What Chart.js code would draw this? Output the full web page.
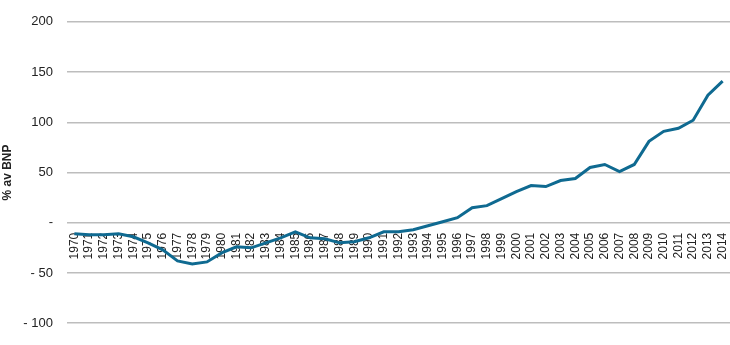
<!DOCTYPE html>
<html>
<head>
<meta charset="utf-8">
<script src="https://cdn.jsdelivr.net/npm/chart.js@4"></script>
<style>
  html, body { margin: 0; padding: 0; background: #fff; }
  #wrap { width: 730px; height: 345px; }
</style>
</head>
<body>
<div id="wrap"><canvas id="chart"></canvas></div>
<script>
// Årstall (x-akse)
const years = [];
for (let y = 1970; y <= 2014; y++) years.push(String(y));

// % av BNP
const values = [
  -11, -12, -12, -11, -14, -20, -27, -38, -41, -39,
  -30, -24, -25, -20, -15, -9, -15, -16, -20, -19,
  -15, -9, -9, -7, -3, 1, 5, 15, 17, 24,
  31, 37, 36, 42, 44, 55, 58, 51, 58, 81,
  91, 94, 102, 127, 141
];

const yTicks = [-100, -50, 0, 50, 100, 150, 200];

function fmtTick(v) {
  if (v === 0) return '-';
  if (v < 0) return '- ' + Math.abs(v);
  return String(v);
}

const ctx = document.getElementById('chart').getContext('2d');
new Chart(ctx, {
  type: 'line',
  data: {
    labels: years,
    datasets: [{
      data: values,
      borderColor: '#0f6a91',
      borderWidth: 3,
      pointRadius: 0,
      tension: 0,
      fill: false
    }]
  },
  options: {
    responsive: true,
    maintainAspectRatio: false,
    animation: false,
    layout: { padding: { top: 10, right: 0, bottom: 20, left: 0 } },
    plugins: { legend: { display: false }, tooltip: { enabled: false } },
    scales: {
      x: {
        position: { y: 0 },
        offset: true,
        grid: { display: false },
        border: { display: false },
        afterFit: axis => { axis.paddingLeft = 0; axis.paddingRight = 0; },
        ticks: {
          autoSkip: false,
          minRotation: 90,
          maxRotation: 90,
          padding: 2,
          color: '#222',
          font: { family: 'Liberation Sans, Arial', size: 12 }
        }
      },
      y: {
        min: yTicks[0],
        max: yTicks[yTicks.length - 1],
        afterBuildTicks: axis => { axis.ticks = yTicks.map(v => ({ value: v })); },
        afterFit: axis => { axis.width = 67; },
        grid: { color: '#bdbdbd', lineWidth: 1.5, drawTicks: false },
        border: { display: false },
        ticks: {
          padding: 14,
          color: '#222',
          font: { family: 'Liberation Sans, Arial', size: 13 },
          callback: v => fmtTick(v)
        },
        title: {
          display: true,
          text: '% av BNP',
          color: '#222',
          padding: { top: 0, bottom: 0 },
          font: { family: 'Liberation Sans, Arial', size: 12, weight: 'bold' }
        }
      }
    }
  }
});
</script>
</body>
</html>
